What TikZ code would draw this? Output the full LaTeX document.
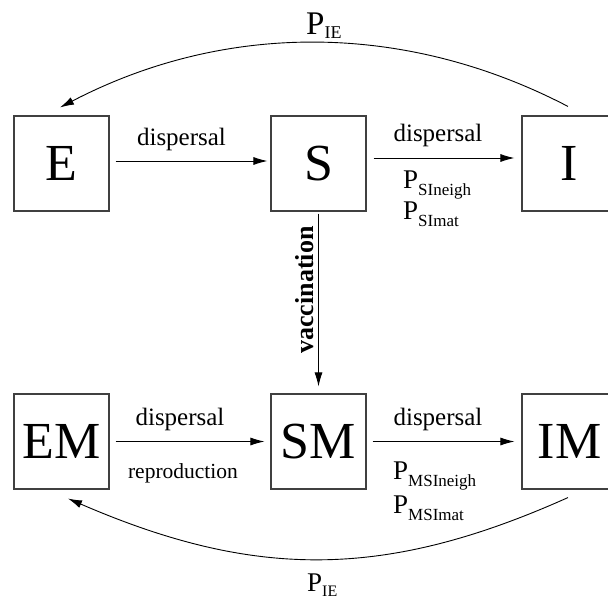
\documentclass[tikz,border=0pt]{standalone}
\usepackage{fontspec}
\setmainfont{Liberation Serif}
\usetikzlibrary{arrows.meta}
\newcommand{\fsz}[1]{\fontsize{#1}{#1}\selectfont}
\newcommand{\probof}[4]{\fsz{#1}P\raisebox{-#3pt}{\fsz{#2}#4}}

\begin{document}
\begin{tikzpicture}[x=1pt, y=-1pt, >={Latex[length=14pt,width=8pt]},
  every node/.style={inner sep=0pt},
  box/.style={draw=black!75, line width=1.1pt, minimum width=95pt, minimum height=95pt, font=\fsz{52}},
  flow/.style={->, line width=0.9pt},
  lbl/.style={font=\fsz{25}, anchor=base}]
  \clip (0,0) rectangle (608,602);
  % compartments
  \node[box] (E) at (61.5,163.5) {E};
  \node[box] (S) at (318.5,163.5) {S};
  \node[box] (I) at (569.5,163.5) {I};
  \node[box] (EM) at (61.5,441.5) {EM};
  \node[box] (SM) at (318.5,441.5) {SM};
  \node[box] (IM) at (569.5,441.5) {IM};
  % transitions
  \draw[flow, shorten <=6pt, shorten >=3pt] ([yshift=2.5pt]E.east) -- ([yshift=2.5pt]S.west);
  \draw[flow, shorten <=7pt, shorten >=7pt] ([yshift=5.5pt]S.east) -- ([yshift=5.5pt]I.west);
  \draw[flow, shorten <=2pt, shorten >=7pt] (S.south) -- (SM.north);
  \draw[flow, shorten <=6pt, shorten >=6pt] (EM.east) -- (SM.west);
  \draw[flow, shorten <=6pt, shorten >=7pt] (SM.east) -- (IM.west);
  \draw[flow] ([shift={(-1.5,-9)}]I.north) .. controls (405,21.5) and (225,21.5) .. ([shift={(-1.5,-8)}]E.north);
  \draw[flow] ([shift={(-1.5,8)}]IM.south) .. controls (385,579.5) and (255,579.5) .. ([shift={(6.5,9)}]EM.south);
  % labels
  \node[lbl] (dES) at (181.5,145) {dispersal};
  \node[lbl] (dSI) at (438,141) {dispersal};
  \node[anchor=base west] (pSIn) at (403,188) {\probof{27}{17}{7}{SIneigh}};
  \node[anchor=base west] (pSIm) at (403,219) {\probof{27}{17}{7}{SImat}};
  \node[font=\fsz{26}\bfseries, rotate=90, anchor=base] (vac) at (313,290) {vaccination};
  \node[lbl] (dEM) at (180,425) {dispersal};
  \node[lbl, font=\fsz{21.5}] (rep) at (183,478) {reproduction};
  \node[lbl] (dSM) at (438,425) {dispersal};
  \node[anchor=base west] (pMn) at (393,479) {\probof{27}{17}{7}{MSIneigh}};
  \node[anchor=base west] (pMm) at (393,513) {\probof{27}{17}{7}{MSImat}};
  \node[anchor=base west] (pIEt) at (306,35) {\probof{33}{18}{4}{IE}};
  \node[anchor=base west] (pIEb) at (307,591) {\probof{27}{16}{5}{IE}};
\end{tikzpicture}
\end{document}
